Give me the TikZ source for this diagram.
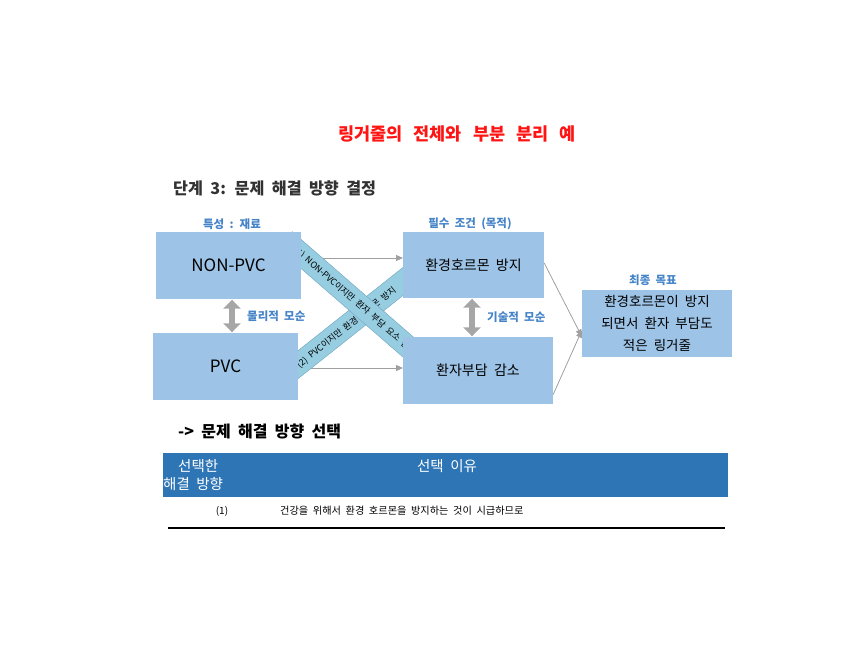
\documentclass[tikz,border=0pt]{standalone}
\usepackage{fontspec}
\setmainfont{Noto Sans CJK KR}[WordSpace=2]
\usetikzlibrary{arrows.meta,calc}
\definecolor{boxblue}{RGB}{157,195,230}
\definecolor{bandblue}{RGB}{150,205,225}
\definecolor{bandedge}{RGB}{115,165,190}
\definecolor{lblblue}{RGB}{70,132,200}
\definecolor{headblue}{RGB}{46,117,182}
\definecolor{arrgray}{RGB}{160,160,160}
\definecolor{dblgray}{RGB}{166,166,166}
\definecolor{titlered}{RGB}{255,20,20}
\definecolor{darktxt}{RGB}{50,50,50}
\tikzset{
  bluebox/.style={fill=boxblue, draw=none, inner sep=0pt, align=center, font=\fontsize{14}{22}\selectfont},
  lbl/.style={text=lblblue, font=\bfseries\fontsize{11.5}{13}\selectfont, inner sep=0pt},
  thinarrow/.style={draw=arrgray, line width=0.8pt, -{Triangle[width=6pt,length=7pt]}},
  dblarrow/.style={draw=dblgray, line width=6pt, {Triangle[width=17pt,length=9pt]}-{Triangle[width=17pt,length=9pt]}, shorten <=0.5pt, shorten >=0.5pt},
  band/.style={fill=bandblue, draw=bandedge, line width=0.4pt},
  bandtext/.style={font=\fontsize{8.8}{10}\selectfont, text=black, inner sep=0pt},
  headtxt/.style={text=white, font=\fontsize{14.5}{16}\selectfont, inner sep=0pt},
}
\begin{document}
\begin{tikzpicture}[x=1pt,y=-1pt]
\useasboundingbox (0,0) rectangle (864,648);
% titles
\node[text=titlered, font=\bfseries\fontsize{17.5}{19}\selectfont] (title) at (457,134) {\spaceskip=11pt 링거줄의 전체와 부분 분리 예};
\node[text=darktxt, font=\bfseries\fontsize{16.2}{18}\selectfont, anchor=west, inner sep=0pt] (step) at (173,188) {단계 3: 문제 해결 방향 결정};
% coordinates for bands
\coordinate (b1s) at (285,240);
\coordinate (b1e) at (430,366);
\coordinate (b2s) at (280,379);
\coordinate (b2e) at (425,264);
% horizontal arrows (under bands)
\coordinate (a1s) at (301,258);
\coordinate (a2s) at (298,368);
\coordinate (a1e) at (403,258);
\coordinate (a2e) at (403,368);
\draw[thinarrow] (a1s) -- (a1e);
\draw[thinarrow] (a2s) -- (a2e);
% bands
\draw[band]
  ($(b2s)!11pt!90:(b2e)$) -- ($(b2e)!11pt!-90:(b2s)$) -- ($(b2e)!11pt!90:(b2s)$) -- ($(b2s)!11pt!-90:(b2e)$) -- cycle;
\node[bandtext, anchor=west, rotate=38.4] (t2) at (298,366) {(2) PVC이지만 환경 호르몬 방지};
\draw[band]
  ($(b1s)!11pt!90:(b1e)$) -- ($(b1e)!11pt!-90:(b1s)$) -- ($(b1e)!11pt!90:(b1s)$) -- ($(b1s)!11pt!-90:(b1e)$) -- cycle;
\node[bandtext, anchor=west, rotate=-41] (t1) at (295,249) {(1) NON-PVC이지만 환자 부담 요소 감소};
% boxes
\node[bluebox, minimum width=145pt, minimum height=67pt, font=\fontsize{17}{20}\selectfont] (nonpvc) at (228.5,265.5) {NON-PVC};
\node[bluebox, minimum width=145pt, minimum height=67pt, font=\fontsize{17}{20}\selectfont] (pvc) at (225.5,366.5) {PVC};
\node[bluebox, minimum width=141pt, minimum height=66pt] (env) at (473.5,265) {환경호르몬 방지};
\node[bluebox, minimum width=150pt, minimum height=67pt] (pat) at (478,370.5) {환자부담 감소};
\node[bluebox, minimum width=150pt, minimum height=67pt, font=\fontsize{13.5}{22}\selectfont] (goal) at (657,323.5) {환경호르몬이 방지\\되면서 환자 부담도\\적은 링거줄};
% labels
\node[lbl] (l1) at (232,224) {특성 : 재료};
\node[lbl] (l2) at (470,224) {필수 조건 (목적)};
\node[lbl] (l3) at (653,280) {최종 목표};
\node[lbl, anchor=west] (l4) at (247,316) {물리적 모순};
\node[lbl, anchor=west] (l5) at (487,317) {기술적 모순};
% double arrows
\draw[dblarrow] (nonpvc.south -| 232,0) -- (pvc.north -| 232,0);
\draw[dblarrow] (env.south -| 472,0) -- (pat.north -| 472,0);
% arrows to goal
\draw[thinarrow] ([yshift=2pt]env.east) -- ([yshift=-13pt]goal.west);
\draw[thinarrow] ([yshift=-24pt]pat.east) -- ([yshift=-7pt]goal.west);
% second heading
\node[text=black, font=\bfseries\fontsize{16}{18}\selectfont, anchor=west, inner sep=0pt] (sel) at (178,431) {-> 문제 해결 방향 선택};
% table
\node[fill=headblue, minimum width=565pt, minimum height=44pt, inner sep=0pt] (head) at (445.5,475) {};
\node[headtxt, anchor=west] (h1) at (178,466) {선택한};
\node[headtxt, anchor=west] (h2) at (163,484) {해결 방향};
\node[headtxt] (h3) at (447,466) {선택 이유};
\node[font=\fontsize{10}{12}\selectfont, inner sep=0pt] (r1) at (222,511) {(1)};
\node[font=\fontsize{10.2}{12}\selectfont, inner sep=0pt, anchor=west] (r2) at (280,511) {건강을 위해서 환경 호르몬을 방지하는 것이 시급하므로};
\coordinate (ls) at (168,528);
\coordinate (le) at (725,528);
\draw[line width=2pt, black] (ls) -- (le);
\end{tikzpicture}
\end{document}
